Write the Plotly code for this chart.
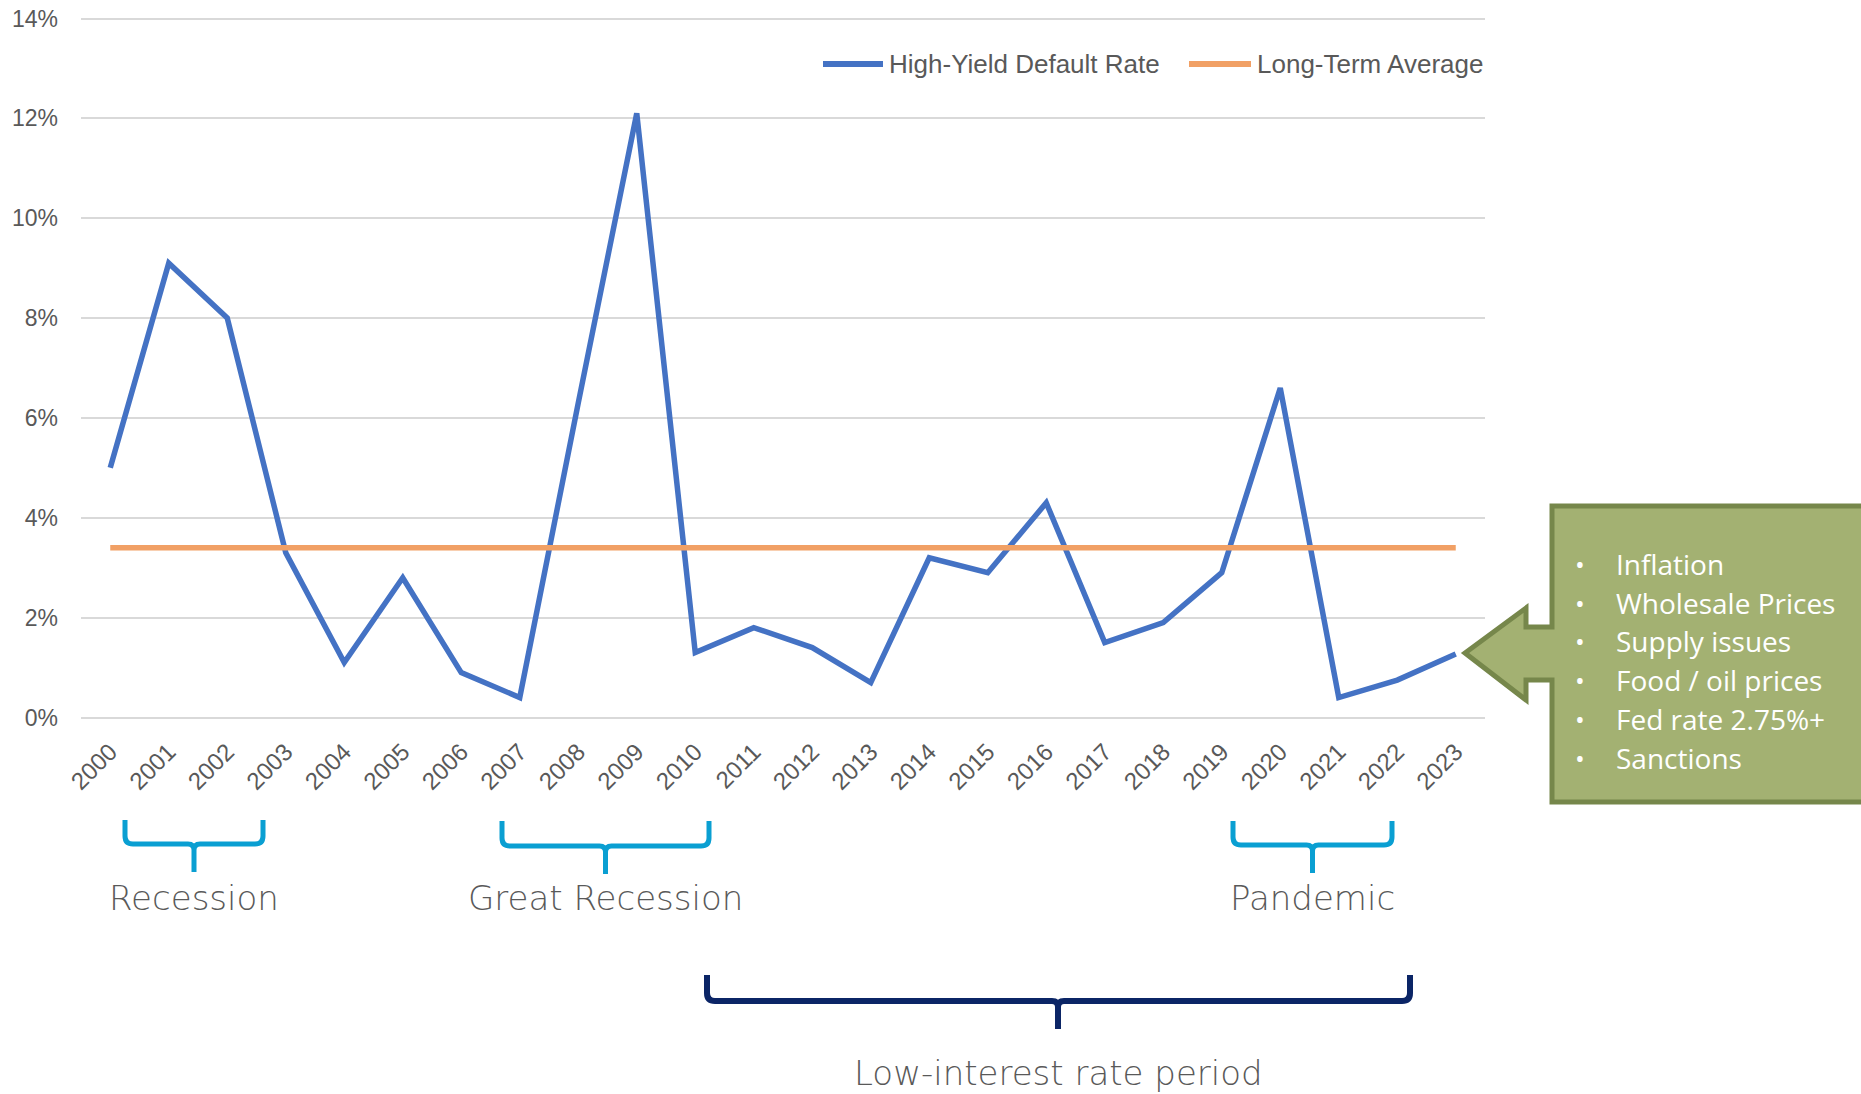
import plotly.graph_objects as go

# ---- data -------------------------------------------------------------
years = ["2000", "2001", "2002", "2003", "2004", "2005", "2006", "2007",
         "2008", "2009", "2010", "2011", "2012", "2013", "2014", "2015",
         "2016", "2017", "2018", "2019", "2020", "2021", "2022", "2023"]
default_rate = [5.0, 9.1, 8.0, 3.3, 1.1, 2.8, 0.9, 0.4,
                6.3, 12.1, 1.3, 1.8, 1.4, 0.7, 3.2, 2.9,
                4.3, 1.5, 1.9, 2.9, 6.6, 0.4, 0.75, 1.27]
long_term_average = 3.4

y_ticks = [0, 2, 4, 6, 8, 10, 12, 14]
y_tick_labels = ["0%", "2%", "4%", "6%", "8%", "10%", "12%", "14%"]

callout_lines = ["Inflation", "Wholesale Prices", "Supply issues",
                 "Food / oil prices", "Fed rate 2.75%+", "Sanctions"]

# period braces: label, first year, last year
periods = [("Recession", "2000", "2003"),
           ("Great Recession", "2007", "2010"),
           ("Pandemic", "2019", "2022")]
long_period = ("Low-interest rate period", "2010", "2022")

# ---- canvas geometry ------------------------------------------------
W, H = 1861, 1094
ML, MR, MT, MB = 81, 376, 17, 375
PW, PH = W - ML - MR, H - MT - MB
BASE = H - MB


def px(x):
    return (x - ML) / PW


def py(y):
    return (BASE - y) / PH


BLUE = "#4472C4"
ORANGE = "#F1A065"
GRID = "#D9D9D9"
TEXT = "#595959"
CYAN = "#0A9FD2"
NAVY = "#0B2566"
OLIVE = "#A3B172"
OLIVE_DARK = "#76874B"

fig = go.Figure()
fig.add_trace(go.Scatter(x=years, y=default_rate, mode="lines",
                         name="High-Yield Default Rate",
                         line=dict(color=BLUE, width=5.5)))
fig.add_trace(go.Scatter(x=years, y=[long_term_average] * len(years),
                         mode="lines", name="Long-Term Average",
                         line=dict(color=ORANGE, width=5.5)))

shapes = []
annotations = []


def brace(xl, xr, yt, yh, xc, ytip, color, width):
    r = 8
    r2 = 6
    pts = (f"M {px(xl)},{py(yt)} L {px(xl)},{py(yh - r)} "
           f"Q {px(xl)},{py(yh)} {px(xl + r)},{py(yh)} "
           f"L {px(xc - r2)},{py(yh)} "
           f"Q {px(xc)},{py(yh)} {px(xc)},{py(yh + r2)} "
           f"L {px(xc)},{py(ytip)} "
           f"M {px(xc)},{py(yh + r2)} "
           f"Q {px(xc)},{py(yh)} {px(xc + r2)},{py(yh)} "
           f"L {px(xr - r)},{py(yh)} "
           f"Q {px(xr)},{py(yh)} {px(xr)},{py(yh - r)} "
           f"L {px(xr)},{py(yt)}")
    shapes.append(dict(type="path", xref="paper", yref="paper", path=pts,
                       line=dict(color=color, width=width)))


LABEL_FONT = dict(family="DejaVu Sans", size=34, color=TEXT, weight=300)

brace_layout = {
    "Recession": (125, 263, 820, 844, 872),
    "Great Recession": (502, 709, 821, 846, 874),
    "Pandemic": (1233, 1392, 821, 845, 873),
}
for label, y0, y1 in periods:
    xl, xr, yt, yh, ytip = brace_layout[label]
    xc = (xl + xr) / 2
    brace(xl, xr, yt, yh, xc, ytip, CYAN, 5)
    annotations.append(dict(x=px(xc), y=py(898), xref="paper", yref="paper",
                            text=label, showarrow=False, xanchor="center",
                            yanchor="middle", font=LABEL_FONT))

brace(707, 1410, 975, 1001, 1058, 1029, NAVY, 6)
annotations.append(dict(x=px(1058), y=py(1073), xref="paper", yref="paper",
                        text=long_period[0], showarrow=False, xanchor="center",
                        yanchor="middle", font=LABEL_FONT))

# ---- callout box with left arrow ---------------------------------------
outline = [(1552, 506), (1875, 506), (1875, 802), (1552, 802), (1552, 680),
           (1526, 680), (1526, 700), (1465, 653), (1526, 608), (1526, 627),
           (1552, 627)]
path = "M " + " L ".join(f"{px(x)},{py(y)}" for x, y in outline) + " Z"
shapes.append(dict(type="path", xref="paper", yref="paper", path=path,
                   fillcolor=OLIVE, line=dict(color=OLIVE_DARK, width=5),
                   layer="above"))
for i, line in enumerate(callout_lines):
    yy = 564 + i * 38.7
    annotations.append(dict(x=px(1580), y=py(yy), xref="paper", yref="paper",
                            text="•", showarrow=False, xanchor="center",
                            yanchor="middle",
                            font=dict(family="Open Sans", size=26, color="white")))
    annotations.append(dict(x=px(1614), y=py(yy), xref="paper", yref="paper",
                            text=line, showarrow=False, xanchor="left",
                            yanchor="middle",
                            font=dict(family="Open Sans", size=28, color="white")))

# ---- legend ------------------------------------------------------------
legend_items = [("High-Yield Default Rate", BLUE, 823, 883, 887),
                ("Long-Term Average", ORANGE, 1189, 1251, 1255)]
for name, color, x0, x1, xt in legend_items:
    shapes.append(dict(type="line", xref="paper", yref="paper",
                       x0=px(x0), x1=px(x1), y0=py(64), y1=py(64),
                       line=dict(color=color, width=6)))
    annotations.append(dict(x=px(xt), y=py(64), xref="paper", yref="paper",
                            text=name, showarrow=False, xanchor="left",
                            yanchor="middle",
                            font=dict(family="Liberation Sans", size=26, color=TEXT)))

fig.update_layout(
    width=W, height=H,
    margin=dict(l=ML, r=MR, t=MT, b=MB, pad=0, autoexpand=False),
    paper_bgcolor="white", plot_bgcolor="white",
    showlegend=False,
    shapes=shapes,
    annotations=annotations,
    font=dict(family="Liberation Sans", color=TEXT),
)
fig.update_xaxes(type="category", range=[-0.5, len(years) - 0.5],
                 automargin=False,
                 showgrid=False, showline=False, zeroline=False,
                 tickangle=-45, ticks="", ticklabelstandoff=13,
                 tickfont=dict(family="Liberation Sans", size=24, color=TEXT))
fig.update_yaxes(range=[-0.03, 14.03], tickvals=y_ticks, ticktext=y_tick_labels,
                 automargin=False,
                 showgrid=True, gridcolor=GRID, gridwidth=2,
                 zeroline=False, showline=False, ticks="",
                 ticklabelstandoff=22,
                 tickfont=dict(family="Liberation Sans", size=23, color=TEXT))

fig.write_html("out.html")
